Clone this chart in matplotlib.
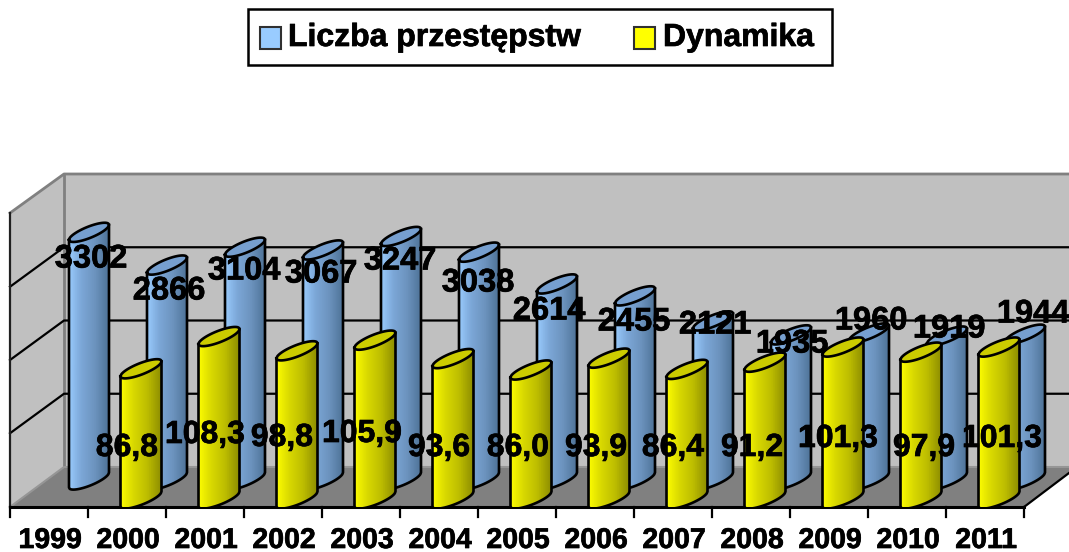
import numpy as np
import matplotlib
matplotlib.use("Agg")
import matplotlib.pyplot as plt
import matplotlib.patheffects as pe
from matplotlib.colors import LinearSegmentedColormap
from matplotlib.patches import Polygon, Rectangle

W, H = 1069, 552

years = ["1999", "2000", "2001", "2002", "2003", "2004", "2005",
         "2006", "2007", "2008", "2009", "2010", "2011"]
liczba = [3302, 2866, 3104, 3067, 3247, 3038, 2614, 2455, 2121, 1935, 1960, 1919, 1944]
dynamika = [86.8, 108.3, 98.8, 105.9, 93.6, 86.0, 93.9, 86.4, 91.2, 101.3, 97.9, 101.3]

# where the labels sit, in pixels (excel 3d placement, not regular)
liczba_label_xy = [(91, 259), (169, 291), (244, 271), (321, 274), (400, 261), (478, 283), (549, 311),
                   (634, 322), (715, 325), (792, 344), (871, 321), (949, 329), (1033, 314)]
dynamika_label_xy = [(127, 448), (205, 435), (282, 438), (362, 434), (439, 448), (518, 448),
                     (596, 448), (673, 448), (752, 448), (838, 439), (924, 448), (1002, 439)]

plt.rcParams["font.family"] = ["Liberation Sans", "DejaVu Sans"]
plt.rcParams["font.weight"] = "bold"

blue_map = LinearSegmentedColormap.from_list("b", ["#9ACDFF", "#7BA6D6", "#6C93BE", "#4F7499"])
yellow_map = LinearSegmentedColormap.from_list("y", ["#FFFF00", "#D8D800", "#BDBD00", "#8F8F00"])
heavy = [pe.withStroke(linewidth=0.5, foreground="black")]


def px_axes(fig, zorder):
    ax = fig.add_axes([0, 0, 1, 1], zorder=zorder)
    ax.set_xlim(0, W)
    ax.set_ylim(H, 0)
    ax.axis("off")
    return ax


def cylinder(ax, x, v, half_w, cmap, cap, py):
    # py: data units per pixel on this axis
    u = np.linspace(-1, 1, 60)
    xs = x + half_w * u
    tilt = 7.5 * u * py
    round_off = 6.0 * np.sqrt(1 - u ** 2) * py
    front_top = v + tilt - round_off
    back_top = v + tilt + round_off
    front_base = tilt - round_off
    shade = (u + 1) / 2
    ax.pcolormesh(np.vstack([xs, xs]), np.vstack([front_base, front_top]),
                  np.vstack([shade, shade]), cmap=cmap, shading="gouraud", zorder=2)
    ax.fill_between(xs, front_top, back_top, color=cap, lw=0, zorder=3)
    ax.plot(np.r_[xs, xs[::-1]], np.r_[front_top, back_top[::-1]], color="black", lw=1.9, zorder=4)
    ax.plot(np.r_[xs[0], xs, xs[-1]], np.r_[front_top[0], front_base, front_top[-1]],
            color="black", lw=1.9, zorder=4)


fig = plt.figure(figsize=(W / 100, H / 100), dpi=100, facecolor="white")

# walls and floor
back = px_axes(fig, 0)
back.add_patch(Polygon([(64, 174), (W, 174), (W, 467), (64, 467)], fc="#C0C0C0", ec="none"))
back.add_patch(Polygon([(10, 213), (64, 174), (64, 467), (10, 507)], fc="#C0C0C0", ec="none"))
back.add_patch(Polygon([(10, 507), (64, 467), (W, 467), (W, 473), (1024, 507)], fc="#808080", ec="none"))
back.plot([10, 64, W], [213, 174, 174], color="#808080", lw=2)
back.plot([64, 64], [174, 467], color="#808080", lw=2)
back.plot([10, 64, W], [507, 467, 467], color="#969696", lw=1.5)
for k in range(1, 4):
    gy = 174 + 73.25 * k
    back.plot([10, 64, W], [gy + 39.5, gy, gy], color="black", lw=1.6)
back.plot([10, 10], [213, 507], color="#202020", lw=1.6)
back.plot([10, 1024], [507, 507], color="black", lw=2.2)
back.plot([1024, W], [507, 473], color="black", lw=1.6)
for i in range(14):
    tx = 10 + 78 * i
    back.plot([tx, tx], [507, 517], color="black", lw=1.6)
for i, y in enumerate(years):
    back.text(50 + 78 * i, 541, y, ha="center", va="center", fontsize=20.5, path_effects=heavy)

# blue cylinders, primary scale: 0.075 px per unit, base at 480 px
blue = fig.add_axes([0, 0, 1, 1], zorder=1)
blue.axis("off")
blue.set_xlim(-89 / 78, (W - 89) / 78)
blue.set_ylim((480 - H) / 0.075, 480 / 0.075)
for i, v in enumerate(liczba):
    cylinder(blue, i, v, 20 / 78, blue_map, "#769FCF", 1 / 0.075)

# yellow cylinders, secondary scale: 1.5 px per unit, clipped at the axis line
yellow = fig.add_axes([0, (H - 507) / H, 1, 507 / H], zorder=2)
yellow.axis("off")
yellow.set_xlim(-141 / 78, (W - 141) / 78)
yellow.set_ylim((499 - 507) / 1.5, 499 / 1.5)
for i, v in enumerate(dynamika):
    cylinder(yellow, i, v, 20.5 / 78, yellow_map, "#CCCC00", 1 / 1.5)

top = px_axes(fig, 3)
for v, (lx, ly) in zip(liczba, liczba_label_xy):
    top.text(lx, ly, str(v), ha="center", va="center", fontsize=23.5, path_effects=heavy)
for v, (lx, ly) in zip(dynamika, dynamika_label_xy):
    top.text(lx, ly, f"{v:.1f}".replace(".", ","), ha="center", va="center", fontsize=23, path_effects=heavy)

# legend box placed by hand, its inner spacing is uneven in the original
top.add_patch(Rectangle((248, 9), 584, 56, fc="white", ec="black", lw=1.8))
top.add_patch(Rectangle((260, 27), 21, 22, fc="#99CCFF", ec="#303030", lw=1.5))
top.add_patch(Rectangle((634, 27), 21, 22, fc="#FFFF00", ec="#303030", lw=1.5))
top.text(288, 38, "Liczba przestępstw", va="center", fontsize=23, path_effects=heavy)
top.text(663, 38, "Dynamika", va="center", fontsize=23, path_effects=heavy)

fig.savefig("out.png", dpi=100)
